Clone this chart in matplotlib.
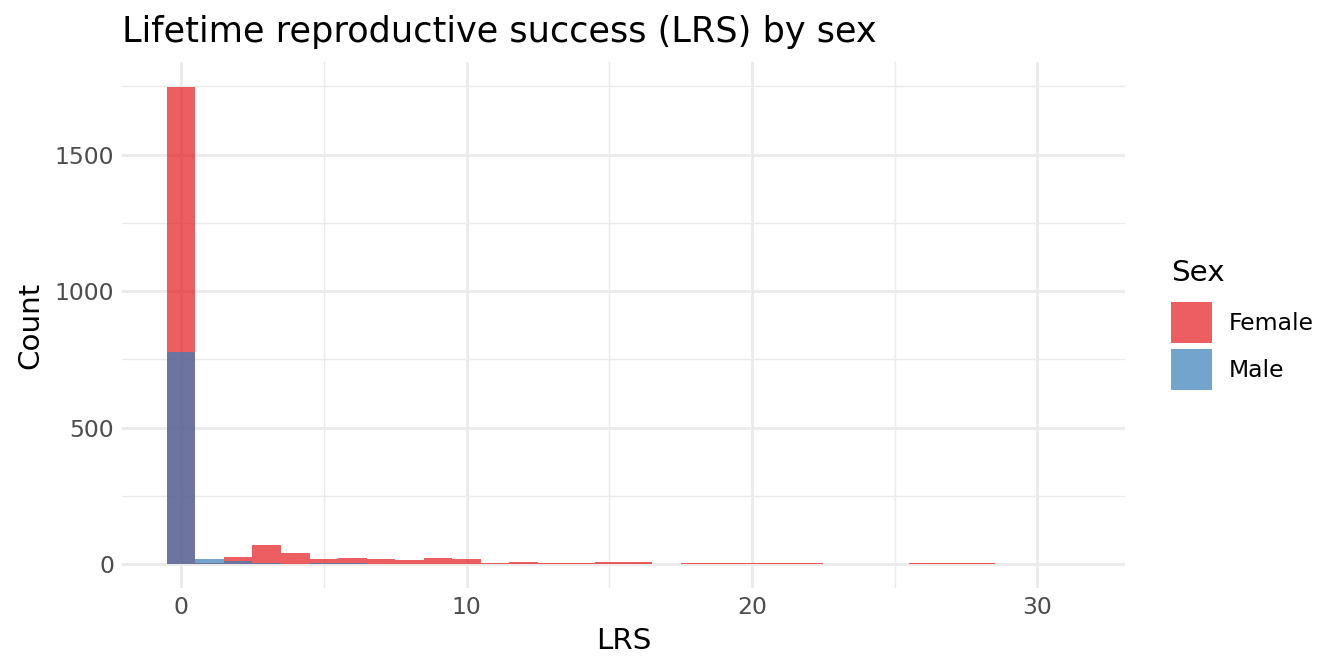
import matplotlib
matplotlib.use("Agg")
import matplotlib.pyplot as plt
from matplotlib.patches import Patch
from matplotlib.ticker import MultipleLocator

# LRS bins (width 1, centred on integers) and counts
lrs_bins = list(range(0, 32))
female_counts = [1749, 5, 27, 71, 42, 20, 23, 20, 16, 23, 20, 5, 8, 5, 5, 8,
                 8, 2, 5, 5, 3, 3, 3, 0, 0, 0, 3, 3, 3, 0, 0, 0]
male_counts = [777, 20, 12, 5, 2, 5, 5, 1, 0, 0, 2, 2, 0, 2, 0, 2,
               0, 0, 0, 0, 0, 0, 0, 0, 0, 0, 0, 0, 0, 0, 0, 0]
sexes = ["Female", "Male"]
colors = ["#E41A1C", "#377EB8"]

plt.rcParams["font.family"] = "DejaVu Sans"

fig = plt.figure(figsize=(7, 3.5), dpi=192)
ax = fig.add_axes([0.0908, 0.125, 0.837 - 0.0908, 0.908 - 0.125])

ax.bar(lrs_bins, female_counts, width=1.0, color=colors[0], alpha=0.7, linewidth=0, zorder=2)
ax.bar(lrs_bins, male_counts, width=1.0, color=colors[1], alpha=0.7, linewidth=0, zorder=3)

ax.set_xlim(-2.07, 33.07)
ax.set_ylim(-87, 1840)

# theme_minimal look
for s in ax.spines.values():
    s.set_visible(False)
ax.xaxis.set_major_locator(MultipleLocator(10))
ax.xaxis.set_minor_locator(MultipleLocator(5))
ax.yaxis.set_major_locator(MultipleLocator(500))
ax.yaxis.set_minor_locator(MultipleLocator(250))
ax.grid(which="major", color="#EBEBEB", linewidth=1.07, zorder=0)
ax.grid(which="minor", color="#EBEBEB", linewidth=0.53, zorder=0)
ax.set_axisbelow(True)
ax.tick_params(which="both", length=0)
ax.tick_params(axis="both", labelsize=8.8, labelcolor="#4D4D4D", pad=3)

ax.set_xlabel("LRS", fontsize=11, labelpad=3)
ax.set_ylabel("Count", fontsize=11, labelpad=3.8)
fig.text(0.0908, 0.953, "Lifetime reproductive success (LRS) by sex",
         fontsize=13.2, ha="left", va="center")

handles = [Patch(facecolor=c, alpha=0.7, edgecolor="none") for c in colors]
leg = ax.legend(handles, sexes, title="Sex", loc="center left",
                bbox_to_anchor=(1.037, 0.5), frameon=False, fontsize=8.8,
                title_fontsize=11, handlelength=1.75, handleheight=2.315,
                handletextpad=0.7, labelspacing=0.25, borderaxespad=0)
leg._legend_box.align = "left"
leg._legend_box.sep = 5.6  # gap between title and keys

fig.savefig("out.png", dpi=192)
